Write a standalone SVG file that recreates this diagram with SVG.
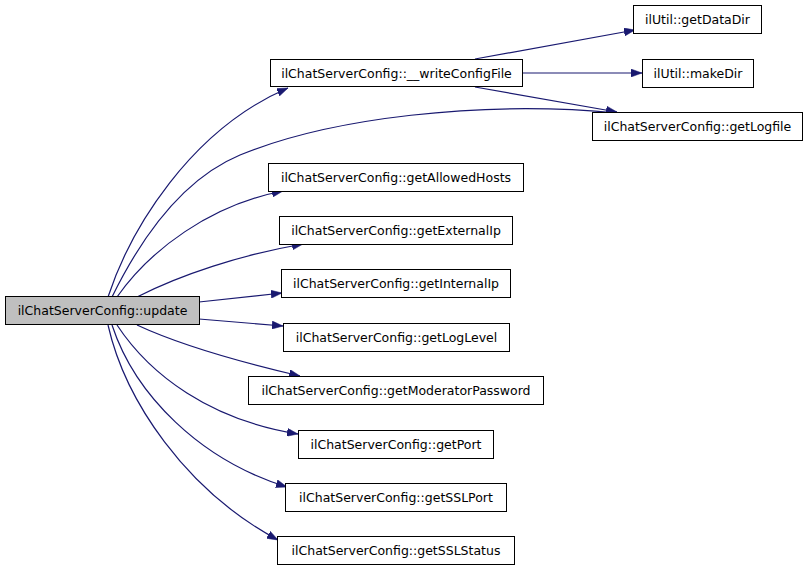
<svg xmlns="http://www.w3.org/2000/svg" width="808" height="571" viewBox="0 0 808 571">
<style>
.n rect{fill:#ffffff;stroke:#000000;stroke-width:1}
.n text{font-family:"DejaVu Sans",sans-serif;font-size:12.5px;fill:#000000;text-anchor:middle}
#edges path{fill:none;stroke:#191970;stroke-width:1.2;marker-end:url(#ah)}
</style>
<defs>
<marker id="ah" markerUnits="userSpaceOnUse" markerWidth="12" markerHeight="8" refX="11" refY="4" orient="auto">
<path d="M0,0 L11,4 L0,8 z" fill="#191970" stroke="#191970" stroke-width="0.5"/>
</marker>
</defs>
<rect x="0" y="0" width="808" height="571" fill="#ffffff"/>
<g id="edges">
<path d="M108,297 C130,230 190,130 288,88"/>
<path d="M112,297 C140,240 180,180 240,155 C330,118 480,100 618,113"/>
<path d="M117,297 C150,250 210,205 283,191"/>
<path d="M137,297 C180,275 240,255 303,244"/>
<path d="M199,302 L282,293"/>
<path d="M199,319 L283,326"/>
<path d="M137,325 C180,345 240,362 300,376"/>
<path d="M117,325 C150,375 210,420 298,434"/>
<path d="M112,325 C135,395 200,460 287,487"/>
<path d="M108,325 C125,400 185,490 278,540"/>
<path d="M475,59 L635,30"/>
<path d="M522,73 L642,73"/>
<path d="M475,87 L617,112"/>
</g>
<g id="update" class="n"><rect x="5.5" y="296.5" width="194" height="28" style="fill:#bfbfbf"/><text x="102.5" y="314.5">ilChatServerConfig::update</text></g>
<g id="writeConfigFile" class="n"><rect x="270.5" y="59.5" width="252" height="27"/><text x="396.5" y="77.5">ilChatServerConfig::__writeConfigFile</text></g>
<g id="getDataDir" class="n"><rect x="633.5" y="5.5" width="128" height="28"/><text x="697.5" y="23.5">ilUtil::getDataDir</text></g>
<g id="makeDir" class="n"><rect x="642.5" y="59.5" width="111" height="28"/><text x="698" y="77.5">ilUtil::makeDir</text></g>
<g id="getLogfile" class="n"><rect x="592.5" y="112.5" width="210" height="28"/><text x="697.5" y="130.5">ilChatServerConfig::getLogfile</text></g>
<g id="getAllowedHosts" class="n"><rect x="268.5" y="163.5" width="255" height="28"/><text x="396" y="181.5">ilChatServerConfig::getAllowedHosts</text></g>
<g id="getExternalIp" class="n"><rect x="279.5" y="216.5" width="233" height="28"/><text x="396" y="234.5">ilChatServerConfig::getExternalIp</text></g>
<g id="getInternalIp" class="n"><rect x="281.5" y="269.5" width="229" height="28"/><text x="396" y="287.5">ilChatServerConfig::getInternalIp</text></g>
<g id="getLogLevel" class="n"><rect x="283.5" y="323.5" width="226" height="28"/><text x="396.5" y="341.5">ilChatServerConfig::getLogLevel</text></g>
<g id="getModeratorPassword" class="n"><rect x="248.5" y="376.5" width="295" height="28"/><text x="396" y="394.5">ilChatServerConfig::getModeratorPassword</text></g>
<g id="getPort" class="n"><rect x="298.5" y="430.5" width="195" height="28"/><text x="396" y="448.5">ilChatServerConfig::getPort</text></g>
<g id="getSSLPort" class="n"><rect x="285.5" y="483.5" width="221" height="28"/><text x="396" y="501.5">ilChatServerConfig::getSSLPort</text></g>
<g id="getSSLStatus" class="n"><rect x="277.5" y="536.5" width="237" height="28"/><text x="396" y="554.5">ilChatServerConfig::getSSLStatus</text></g>
</svg>
